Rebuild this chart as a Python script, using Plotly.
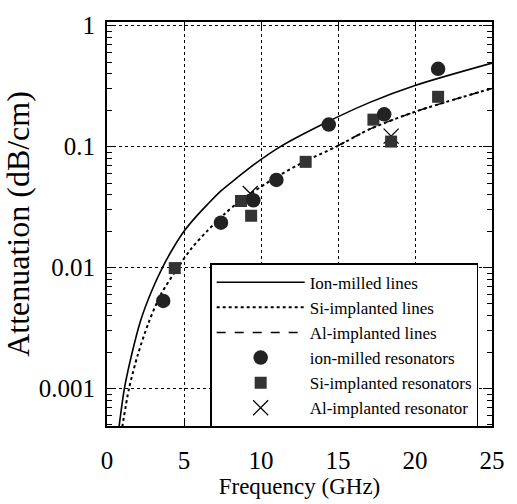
import plotly.graph_objects as go

# Lines (GHz, dB/cm)
ion_line_f = [0.78, 1.13, 1.6, 2.2, 2.9, 3.6, 4.3, 5.07, 5.8, 6.5, 7.4, 8.35, 9.8, 11.26, 14.0, 17.07, 20.0, 25.0]
ion_line_a = [0.00048, 0.001, 0.0019, 0.0037, 0.0064, 0.01, 0.0145, 0.0205, 0.0265, 0.033, 0.043, 0.054, 0.075,
              0.1, 0.153, 0.232, 0.32, 0.49]

si_line_f = [0.99, 1.43, 2.0, 2.7, 3.5, 4.65, 5.5, 6.5, 7.6, 8.7, 11.0, 12.9, 14.9, 17.1, 20.0, 25.0]
si_line_a = [0.00048, 0.001, 0.0019, 0.0035, 0.006, 0.0102, 0.0145, 0.02, 0.0275, 0.036, 0.056, 0.076, 0.1,
             0.14, 0.194, 0.303]

al_line_f = [14.9, 17.1, 20.0, 25.0]
al_line_a = [0.1, 0.14, 0.194, 0.303]

ion_res_f = [3.65, 7.4, 9.5, 11.0, 14.4, 18.0, 21.5]
ion_res_a = [0.0053, 0.0235, 0.036, 0.053, 0.152, 0.185, 0.44]

si_res_f = [4.4, 8.7, 9.36, 12.9, 17.3, 18.45, 21.5]
si_res_a = [0.0099, 0.0355, 0.0268, 0.0748, 0.167, 0.11, 0.258]

al_res_f = [9.3, 18.45]
al_res_a = [0.041, 0.122]

y_tick_vals = [0.001, 0.01, 0.1, 1]
y_tick_text = ["0.001", "0.01", "0.1", "1"]
x_tick_vals = [0, 5, 10, 15, 20, 25]
y_minor_vals = [m * d for d in (0.0001, 0.001, 0.01, 0.1) for m in range(2, 10)]

FONT = "Liberation Serif"

fig = go.Figure()
fig.add_trace(go.Scatter(x=al_line_f, y=al_line_a, mode="lines", name="Al-implanted lines",
                         line=dict(color="black", width=1.5, dash="dash", shape="spline", smoothing=0.8),
                         legendrank=3))
fig.add_trace(go.Scatter(x=ion_line_f, y=ion_line_a, mode="lines", name="Ion-milled lines",
                         line=dict(color="black", width=1.6, shape="spline", smoothing=0.8), legendrank=1))
fig.add_trace(go.Scatter(x=si_line_f, y=si_line_a, mode="lines", name="Si-implanted lines",
                         line=dict(color="black", width=2, dash="dot", shape="spline", smoothing=0.8),
                         legendrank=2))
fig.add_trace(go.Scatter(x=al_res_f, y=al_res_a, mode="markers", name="Al-implanted resonator",
                         marker=dict(symbol="x-thin-open", size=15, color="black", line=dict(width=1.3, color="black")),
                         legendrank=6))
fig.add_trace(go.Scatter(x=si_res_f, y=si_res_a, mode="markers", name="Si-implanted resonators",
                         marker=dict(symbol="square", size=12, color="#333333"), legendrank=5))
fig.add_trace(go.Scatter(x=ion_res_f, y=ion_res_a, mode="markers", name="ion-milled resonators",
                         marker=dict(symbol="circle", size=14.5, color="#222222"), legendrank=4))

fig.update_layout(
    width=517, height=504,
    margin=dict(l=107, r=15, t=16, b=71),
    paper_bgcolor="white", plot_bgcolor="white",
    font=dict(family=FONT, color="black", size=18),
    showlegend=True,
    legend=dict(x=0.268, y=0.403, xanchor="left", yanchor="top",
                bgcolor="white", bordercolor="black", borderwidth=1.5,
                font=dict(family=FONT, size=17), itemwidth=88,
                tracegroupgap=0),
)
fig.update_xaxes(range=[0, 25], tickvals=x_tick_vals,
                 showline=True, linecolor="black", linewidth=2, mirror="allticks",
                 ticks="inside", ticklen=6, tickcolor="black",
                 showgrid=True, gridcolor="black", griddash="dot", gridwidth=1.2,
                 zeroline=False, ticklabelstandoff=11,
                 tickfont=dict(family=FONT, size=25),
                 title=dict(text="Frequency (GHz)", font=dict(family=FONT, size=23), standoff=2))
fig.update_yaxes(type="log", range=[-3.31, 0.03],
                 tickvals=y_tick_vals, ticktext=y_tick_text,
                 showline=True, linecolor="black", linewidth=2, mirror="allticks",
                 ticks="inside", ticklen=9, tickcolor="black",
                 minor=dict(ticks="inside", ticklen=5, tickcolor="black", tickmode="array",
                            tickvals=y_minor_vals, showgrid=False),
                 showgrid=True, gridcolor="black", griddash="dot", gridwidth=1.2,
                 ticklabelstandoff=5,
                 tickfont=dict(family=FONT, size=25),
                 title=dict(text="Attenuation (dB/cm)", font=dict(family=FONT, size=32), standoff=4))

fig.write_html("out.html")
